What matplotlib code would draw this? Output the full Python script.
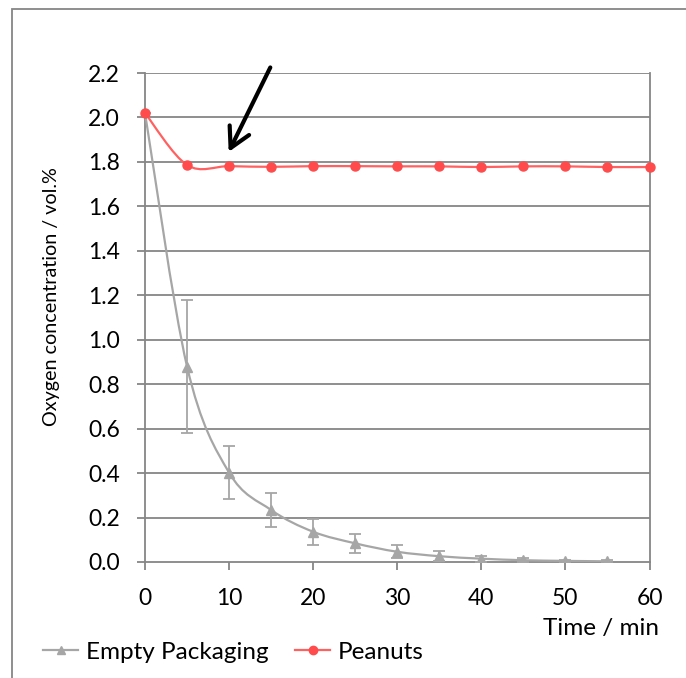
import numpy as np
import matplotlib
matplotlib.use('Agg')
import matplotlib.pyplot as plt
from matplotlib.path import Path
from matplotlib.patches import PathPatch, Rectangle
from matplotlib.lines import Line2D

#%% данные
time_min = [0, 5, 10, 15, 20, 25, 30, 35, 40, 45, 50, 55, 60]
peanuts = [2.02, 1.786, 1.781, 1.778, 1.781, 1.781, 1.780, 1.780, 1.777, 1.780, 1.780, 1.777, 1.777]

time_empty = [0, 5, 10, 15, 20, 25, 30, 35, 40, 45, 50, 55]
empty = [2.02, 0.879, 0.402, 0.234, 0.136, 0.084, 0.046, 0.026, 0.015, 0.008, 0.005, 0.003]
empty_err = [0.0, 0.30, 0.12, 0.078, 0.059, 0.043, 0.030, 0.022, 0.014, 0.008, 0.005, 0.004]

x_ticks = [0, 10, 20, 30, 40, 50, 60]
y_ticks = np.round(np.arange(0, 2.21, 0.2), 1)

gray = '#a6a6a6'
red_line = '#ff6161'
red_mark = '#ff4b4b'
axis_col = '#868686'

plt.rcParams['font.family'] = ['Lato', 'DejaVu Sans']


def smooth_path(x, y):
    # сглаживание как в Excel: сплайн Катмулла-Рома через кривые Безье
    p = np.column_stack([x, y]).astype(float)
    verts = [p[0]]
    codes = [Path.MOVETO]
    n = len(p)
    for i in range(n - 1):
        p0 = p[i - 1] if i > 0 else p[i]
        p3 = p[i + 2] if i + 2 < n else p[i + 1]
        c1 = p[i] + (p[i + 1] - p0) / 6
        c2 = p[i + 1] - (p3 - p[i]) / 6
        verts += [c1, c2, p[i + 1]]
        codes += [Path.CURVE4] * 3
    return Path(verts, codes)


#%% график
fig = plt.figure(figsize=(6.86, 6.78), dpi=100)
ax = fig.add_axes([0.2114, 0.1711, 0.7354, 0.7212])

ax.set_xlim(0, 60)
ax.set_ylim(0, 2.2)

for v in y_ticks[1:]:
    ax.axhline(v, color=axis_col, lw=1.3, zorder=1)

ax.add_patch(PathPatch(smooth_path(time_empty, empty), fill=False,
                       edgecolor=gray, lw=1.6, zorder=3))
ax.errorbar(time_empty, empty, yerr=empty_err, fmt='none', ecolor=gray,
            elinewidth=1.3, capsize=4, capthick=1.3, zorder=3)
ax.plot(time_empty[1:], empty[1:], ls='none', marker='^', ms=7,
        color=gray, zorder=4)

ax.add_patch(PathPatch(smooth_path(time_min, peanuts), fill=False,
                       edgecolor=red_line, lw=1.6, zorder=5))
ax.plot(time_min, peanuts, ls='none', marker='o', ms=6.5, color=red_mark,
        zorder=6, clip_on=False)

ax.annotate('', xy=(9.95, 1.845), xytext=(14.9, 2.225),
            arrowprops=dict(arrowstyle='->,head_length=0.55,head_width=0.3',
                            color='black', lw=3, mutation_scale=26,
                            shrinkA=0, shrinkB=0),
            annotation_clip=False, zorder=7)

ax.set_xticks(x_ticks)
ax.set_yticks(y_ticks)
ax.set_yticklabels([f'{v:.1f}' for v in y_ticks])
ax.tick_params(axis='both', direction='out', length=6, width=1.3,
               color=axis_col, labelsize=16.5)
ax.tick_params(axis='x', pad=13)
ax.tick_params(axis='y', pad=12)

for s in ['left', 'bottom', 'right']:
    ax.spines[s].set_color(axis_col)
    ax.spines[s].set_linewidth(1.3)
ax.spines['top'].set_visible(False)

ax.set_ylabel('Oxygen concentration / vol.%', fontsize=14.2)
ax.yaxis.set_label_coords(-0.168, 0.543)
fig.text(659 / 686, 1 - 635 / 678, 'Time / min', fontsize=17.5,
         ha='right', va='baseline')

handles = [Line2D([], [], color=gray, marker='^', ms=6, lw=1.6),
           Line2D([], [], color=red_line, marker='o', ms=6,
                  markerfacecolor=red_mark, markeredgecolor=red_mark, lw=1.6)]
fig.legend(handles, ['Empty Packaging', 'Peanuts'], loc='center left',
           bbox_to_anchor=(43 / 686, 1 - 652 / 678), ncol=2, frameon=False,
           fontsize=17.5, handlelength=1.45, handletextpad=0.3,
           columnspacing=1.1, borderpad=0, borderaxespad=0)

fig.add_artist(Rectangle((12 / 686, -0.1), 1.2, 1.1 - 9 / 678,
                         transform=fig.transFigure, fill=False,
                         edgecolor=axis_col, lw=1.3))

fig.savefig('out.png', dpi=100)
